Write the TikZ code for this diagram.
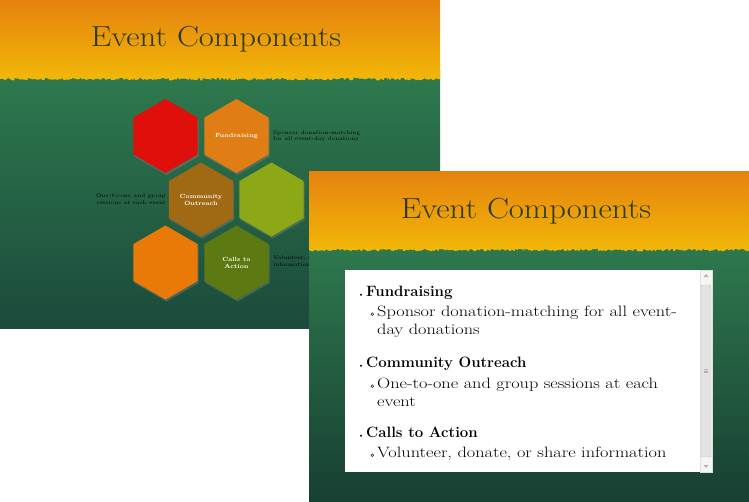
\documentclass[tikz,border=0pt]{standalone}
\usepackage{fontspec}
\newfontfamily\regw{Latin Modern Roman}[FakeStretch=1.22]
\newfontfamily\smallw{Latin Modern Roman}
\newfontfamily\ttlfont{Latin Modern Roman}[FakeStretch=1.13]
\usetikzlibrary{shapes.geometric,shadows,decorations.pathmorphing}
\definecolor{hdrtop}{HTML}{E5820F}
\definecolor{hdrbot}{HTML}{F2B807}
\definecolor{grntop}{HTML}{2F7A4E}
\definecolor{grnbot}{HTML}{1B4A3B}
\definecolor{titlec}{HTML}{2C3A1C}
\definecolor{hred}{HTML}{DF0F0C}
\definecolor{horange}{HTML}{E07D14}
\definecolor{hbrown}{HTML}{A26914}
\definecolor{hlime}{HTML}{8DA817}
\definecolor{horangeb}{HTML}{E97A08}
\definecolor{hgreen}{HTML}{5C7912}
\begin{document}
\begin{tikzpicture}[x=1pt,y=-1pt,
  hexa/.style={regular polygon, regular polygon sides=6, shape border rotate=30, minimum size=74pt, inner sep=0pt, text=white, align=center, font=\fontsize{6}{7}\selectfont\bfseries, drop shadow={opacity=0.45, shadow xshift=1pt, shadow yshift=-2pt}},
  ttl/.style={anchor=base, text=titlec, inner sep=0pt, font=\ttlfont\fontsize{29}{30}\selectfont},
  tinytxt/.style={font=\smallw\fontsize{5.3}{6.5}\selectfont, text=black, inner sep=0pt},
  lvla/.style={anchor=base west, inner sep=0pt, font=\fontsize{15}{18}\selectfont\bfseries},
  lvlb/.style={anchor=base west, inner sep=0pt, font=\regw\fontsize{15}{18}\selectfont},
  jag/.style={decorate, decoration={random steps, segment length=1.5pt, amplitude=1.4pt}}
]
\pgfmathsetseed{7}
\useasboundingbox (0,0) rectangle (749,501);
\fill[white] (0,0) rectangle (749,501);
% ---------- slide 1 ----------
\shade[top color=grntop, bottom color=grnbot] (0,70) rectangle (440,328);
\shade[top color=hdrtop, bottom color=hdrbot] (0,0) -- (440,0) -- (440,79) decorate[jag]{-- (0,79)} -- cycle;
\node[ttl] (t1) at (216,46) {Event Components};

\node[hexa, fill=hred]    (hred)  at (165.5,136) {};
\node[hexa, fill=horange] (hfund) at (236.5,136) {Fundraising};
\node[hexa, fill=hbrown]  (hcomm) at (201,199.5) {Community\\Outreach};
\node[hexa, fill=hlime]   (hlime) at (271.5,199.5) {};
\node[hexa, fill=horangeb](horb)  at (165.5,262.5) {};
\node[hexa, fill=hgreen]  (hcall) at (236.5,262.5) {Calls to\\Action};

\node[tinytxt, anchor=west, align=left] (d1) at (273,136) {Sponsor donation-matching\\for all event-day donations};
\node[tinytxt, anchor=east, align=right] (d2) at (166,199) {One-to-one and group\\sessions at each event};
\node[tinytxt, anchor=west, align=left] (d3) at (273,261) {Volunteer, donate, or share\\information};

% ---------- slide 2 ----------
\shade[top color=grntop, bottom color=grnbot!85!black] (309,240) rectangle (749,501);
\shade[top color=hdrtop, bottom color=hdrbot] (309,171) -- (749,171) -- (749,250) decorate[jag]{-- (309,250)} -- cycle;
\node[ttl] (t2) at (526,218) {Event Components};

\node[fill=white, minimum width=367pt, minimum height=202pt, anchor=north west, inner sep=0pt] (box) at (345,270) {};
\node[fill=gray!8, draw=gray!25, minimum width=12pt, minimum height=202pt, anchor=north east, inner sep=0pt] (sb) at (712,270) {};
\node[fill=gray!22, draw=gray!45, rounded corners=1pt, minimum width=10pt, minimum height=172pt, inner sep=0pt] (thumb) at (706,371) {};
\fill[gray!60] (703.5,277) -- (708.5,277) -- (706,274) -- cycle;
\fill[gray!60] (703.5,465) -- (708.5,465) -- (706,468) -- cycle;
\foreach \yy in {369.5,371,372.5} \draw[gray!60, line width=0.5pt] (704,\yy) -- (708,\yy);

\foreach \yy in {296,367,437} \fill[black] (361,\yy-1.2) circle (1.1pt);
\foreach \yy in {316,388,457} \draw[black, line width=0.45pt] (372.3,\yy-1.8) circle (1.4pt);

\node[lvla] (i1) at (366,296) {Fundraising};
\node[lvlb] (i1a) at (377,316) {Sponsor donation-matching for all event-};
\node[lvlb] (i1b) at (377,334) {day donations};
\node[lvla] (i2) at (366,367) {Community Outreach};
\node[lvlb] (i2a) at (377,388) {One-to-one and group sessions at each};
\node[lvlb] (i2b) at (377,406) {event};
\node[lvla] (i3) at (366,437) {Calls to Action};
\node[lvlb] (i3a) at (377,457) {Volunteer, donate, or share information};
\end{tikzpicture}
\end{document}
